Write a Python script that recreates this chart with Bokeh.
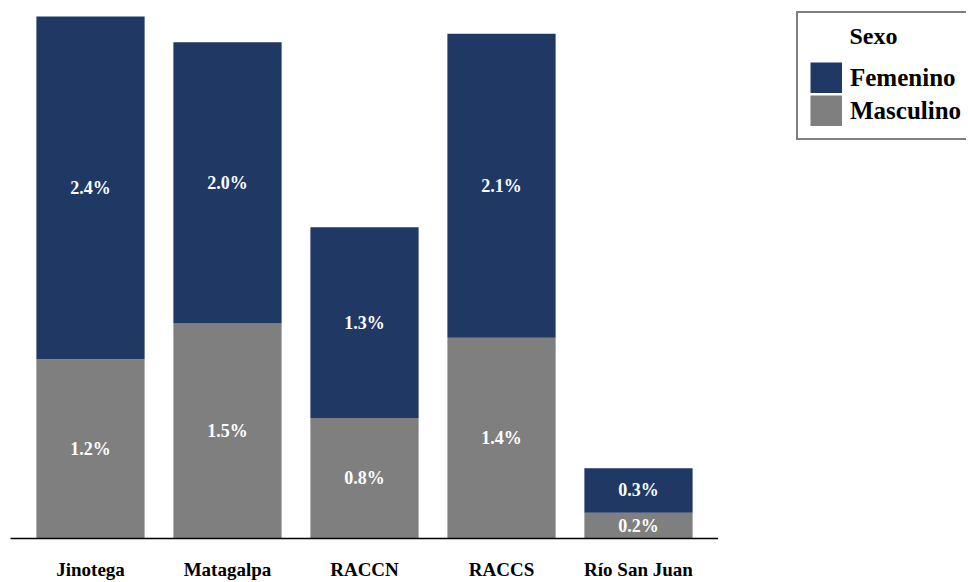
from bokeh.plotting import figure
from bokeh.layouts import row
from bokeh.models import ColumnDataSource, FactorRange, Range1d, Legend, LegendItem, Label
from bokeh.core.properties import value
from bokeh.embed import file_html
from bokeh.resources import INLINE

# ---- data ----
regiones = ["Jinotega", "Matagalpa", "RACCN", "RACCS", "Río San Juan"]
masculino = [1.25, 1.50, 0.84, 1.40, 0.18]
femenino = [2.39, 1.96, 1.33, 2.12, 0.31]
series = ["Femenino", "Masculino"]
colores = {"Femenino": "#203864", "Masculino": "#7F7F7F"}
titulo_leyenda = "Sexo"

FONT = "Liberation Serif"
H = 582

src = ColumnDataSource(dict(
    region=regiones,
    Masculino=masculino,
    Femenino=femenino,
    masc_mid=[m / 2 for m in masculino],
    fem_mid=[m + f / 2 for m, f in zip(masculino, femenino)],
    masc_lbl=[f"{m:.1f}%" for m in masculino],
    fem_lbl=[f"{f:.1f}%" for f in femenino],
))

p = figure(
    x_range=FactorRange(*regiones, range_padding=0.0336, range_padding_units="percent"),
    y_range=Range1d(0, 3.752),
    width=718, height=H,
    output_backend="svg", toolbar_location=None,
    min_border_left=10, min_border_right=0, min_border_top=0, min_border_bottom=0,
)

bars = p.vbar_stack(["Masculino", "Femenino"], x="region", width=0.79,
                    color=[colores["Masculino"], colores["Femenino"]],
                    line_color=None, source=src)

for ycol, tcol in (("masc_mid", "masc_lbl"), ("fem_mid", "fem_lbl")):
    p.text(x="region", y=ycol, text=tcol, source=src,
           text_align="center", text_baseline="middle", text_color="white",
           text_font=value(FONT), text_font_style="bold", text_font_size="18px")

p.yaxis.visible = False
p.xgrid.grid_line_color = None
p.ygrid.grid_line_color = None
p.outline_line_color = None
p.xaxis.major_tick_line_color = None
p.xaxis.minor_tick_line_color = None
p.xaxis.axis_line_color = "black"
p.xaxis.axis_line_width = 1.5
p.xaxis.major_label_text_font = FONT
p.xaxis.major_label_text_font_style = "bold"
p.xaxis.major_label_text_font_size = "19px"
p.xaxis.major_label_text_color = "black"
p.xaxis.major_label_standoff = 14

# ---- legend panel ----
pl = figure(
    x_range=Range1d(0, 1), y_range=Range1d(0, 1),
    width=248, height=H,
    output_backend="svg", toolbar_location=None,
    min_border_left=0, min_border_right=0, min_border_top=0, min_border_bottom=0,
)
pl.axis.visible = False
pl.grid.grid_line_color = None
pl.outline_line_color = None

sw_f = pl.line(x=[-1], y=[-1], line_color=colores["Femenino"], line_width=31, line_cap="butt")
sw_m = pl.line(x=[-1], y=[-1], line_color=colores["Masculino"], line_width=31, line_cap="butt")

legend = Legend(
    items=[LegendItem(label="Femenino", renderers=[sw_f]),
           LegendItem(label="Masculino", renderers=[sw_m])],
    title=" ",
    location=(78, 398),
    orientation="vertical",
    glyph_width=32, glyph_height=31, label_height=31, spacing=2,
    label_standoff=8, padding=12, margin=0,
    label_text_font=FONT, label_text_font_style="bold", label_text_font_size="25px",
    label_text_color="black",
    title_text_font=FONT, title_text_font_style="bold", title_text_font_size="22px",
    title_text_color="black",
    title_standoff=11,
    border_line_color="black", border_line_width=2,
    background_fill_alpha=0.0,
)
pl.add_layout(legend, "center")

pl.add_layout(Label(x=131, y=H - 79, x_units="screen", y_units="screen",
                    text=titulo_leyenda, text_baseline="middle", text_align="left",
                    text_font=FONT, text_font_style="bold", text_font_size="24px",
                    text_color="black", level="overlay"))

layout = row(p, pl)

open("out.html", "w").write(file_html(layout, INLINE))
